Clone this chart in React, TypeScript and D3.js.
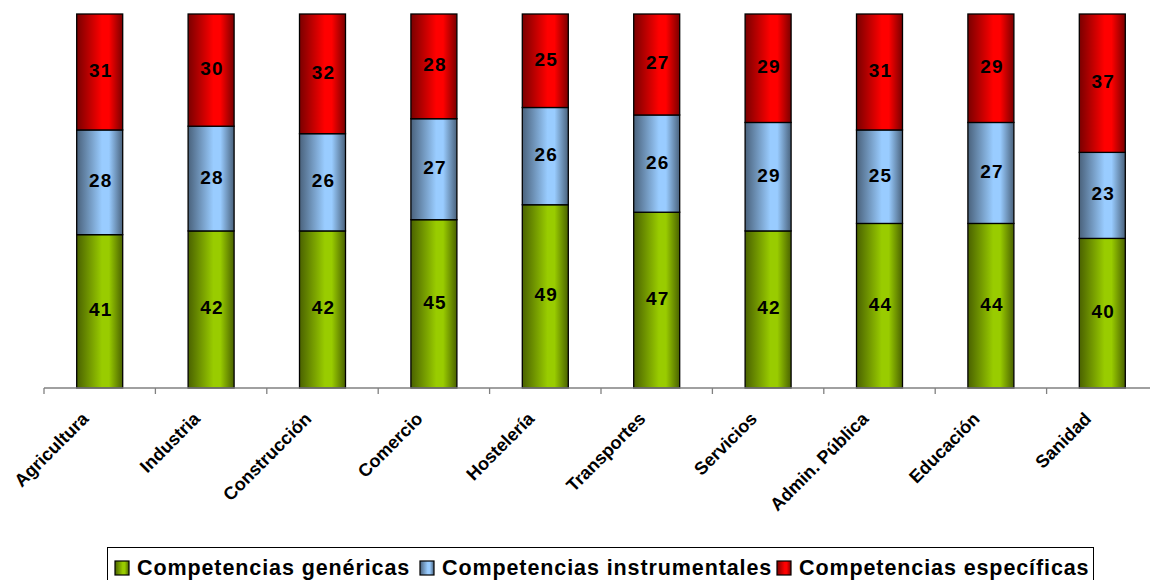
import React from "react";
import * as d3 from "d3";

const categories = ["Agricultura", "Industria", "Construcción", "Comercio", "Hostelería", "Transportes", "Servicios", "Admin. Pública", "Educación", "Sanidad"];
const genericas = [41, 42, 42, 45, 49, 47, 42, 44, 44, 40];
const instrumentales = [28, 28, 26, 27, 26, 26, 29, 25, 27, 23];
const especificas = [31, 30, 32, 28, 25, 27, 29, 31, 29, 37];
const seriesNames = ["Competencias genéricas", "Competencias instrumentales", "Competencias específicas"];

const colors = [
  { id: "gG", light: "#99cc00", dark: "#4a6200" },
  { id: "gB", light: "#99ccff", dark: "#4a627c" },
  { id: "gR", light: "#ff0000", dark: "#7a0000" },
];

export default function App() {
  const W = 1150, H = 580;
  const left = 44, right = 1158, top = 14, bottom = 388;
  const x = d3.scaleBand<string>().domain(categories).range([left, right]).paddingInner(0).paddingOuter(0);
  const y = d3.scaleLinear().domain([0, 100]).range([bottom, top]);
  const barW = 46;
  const rows = categories.map((c, i) => ({ cat: c, g: genericas[i], i: instrumentales[i], e: especificas[i] }));
  const stack = d3.stack<any>().keys(["g", "i", "e"])(rows);
  const font = "Liberation Sans, Arial, sans-serif";
  const legendX = [115, 420, 777];

  return (
    <svg width={W} height={H} style={{ position: "absolute", left: 0, top: 0 }} fontFamily={font}>
      <defs>
        {colors.map((c) => (
          <linearGradient key={c.id} id={c.id} x1="0" x2="1" y1="0" y2="0">
            <stop offset="0" stopColor={c.dark} />
            <stop offset="0.55" stopColor={c.light} />
            <stop offset="0.7" stopColor={c.light} />
            <stop offset="1" stopColor={c.dark} />
          </linearGradient>
        ))}
      </defs>
      <rect x={0} y={0} width={W} height={H} fill="#fff" />
      {stack.map((s, si) =>
        s.map((d, di) => {
          const cx = (x(categories[di]) as number) + x.bandwidth() / 2;
          const y0 = y(d[1]);
          const y1 = y(d[0]);
          return (
            <g key={si + "-" + di}>
              <rect x={cx - barW / 2} y={y0} width={barW} height={y1 - y0} fill={`url(#${colors[si].id})`} stroke="#000" strokeWidth={1.3} />
              <text x={cx + 1} y={(y0 + y1) / 2 + 5} textAnchor="middle" fontSize={19} fontWeight="bold" letterSpacing={1.2} fill="#000">
                {d[1] - d[0]}
              </text>
            </g>
          );
        })
      )}
      <line x1={left} x2={W} y1={bottom} y2={bottom} stroke="#808080" strokeWidth={1.3} />
      {categories.map((c, i) => {
        const tx = (x(c) as number);
        return <line key={"t" + i} x1={tx} x2={tx} y1={bottom} y2={bottom + 6} stroke="#808080" strokeWidth={1.3} />;
      })}
      {categories.map((c, i) => {
        const cx = (x(c) as number) + x.bandwidth() / 2;
        return (
          <text key={"l" + i} transform={`translate(${cx - 10},${420}) rotate(-45)`} textAnchor="end" fontSize={18} fontWeight="bold" fill="#000">
            {c}
          </text>
        );
      })}
      <g>
        <rect x={107.5} y={547.5} width={986} height={40} fill="#fff" stroke="#000" strokeWidth={1} />
        {seriesNames.map((n, i) => {
          const xs = legendX[i];
          return (
            <g key={"lg" + i}>
              <rect x={xs} y={561} width={14} height={14} fill={`url(#${colors[i].id})`} stroke="#000" strokeWidth={1.2} />
              <text x={xs + 22} y={575} fontSize={21.5} fontWeight="bold" letterSpacing={0.9} fill="#000">{n}</text>
            </g>
          );
        })}
      </g>
    </svg>
  );
}
